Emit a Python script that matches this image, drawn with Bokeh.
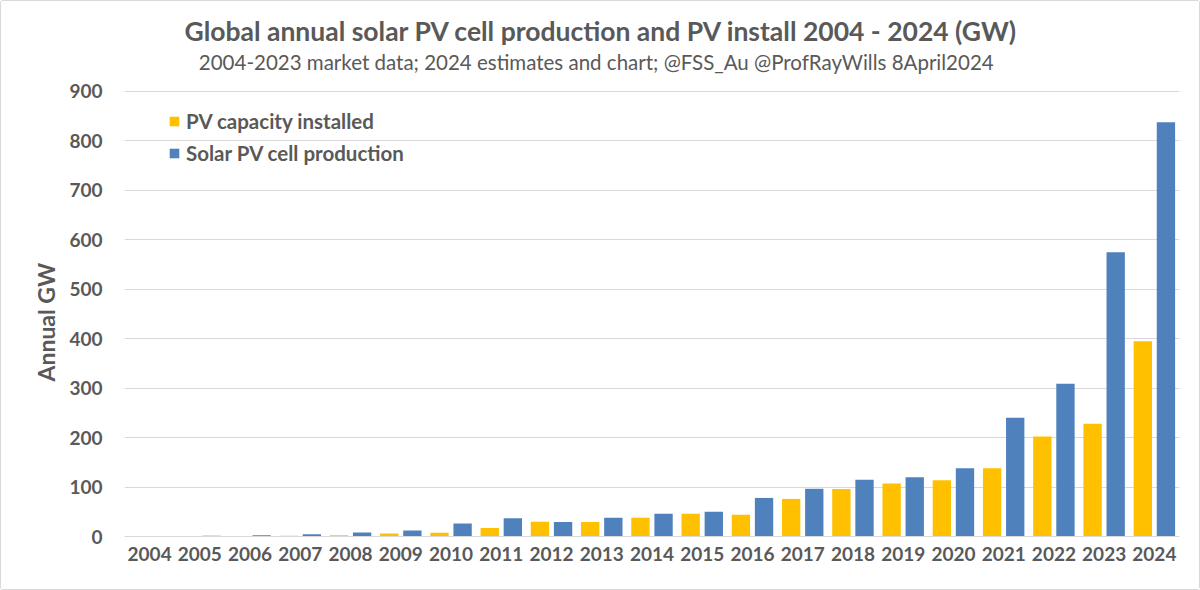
from bokeh.plotting import figure
from bokeh.models import ColumnDataSource, Range1d, FixedTicker, Label, Legend, LegendItem, Title
from bokeh.transform import dodge
from bokeh.embed import file_html
from bokeh.resources import INLINE

years = [str(y) for y in range(2004, 2025)]
installed = [0.3, 0.5, 0.8, 1.5, 2.7, 6, 7.4, 17, 30, 29.5, 38, 46, 44, 76, 96, 107, 114, 138, 202, 228, 395]
production = [0.4, 1.5, 2.5, 4.5, 8, 12, 26.5, 37, 29.5, 38, 46, 50, 78, 96.5, 115, 120, 138, 240, 309, 575, 838]
y_ticks = [0, 100, 200, 300, 400, 500, 600, 700, 800, 900]

title_text = "Global annual solar PV cell production and PV install 2004 - 2024 (GW)"
subtitle_text = "2004-2023 market data;  2024 estimates and chart; @FSS_Au @ProfRayWills  8April2024"
y_label_text = "Annual GW"
series_names = ["PV capacity installed", "Solar PV cell production"]

YELLOW = "#FFC000"
BLUE = "#4F81BD"
GREY = "#595959"
FONT = "Lato"

src = ColumnDataSource(dict(year=years, installed=installed, production=production))

# frame spans whole height so that the titles can live inside it; grid only at the ticks 0..900
p = figure(x_range=years, y_range=Range1d(0, 1082), width=1200, height=590,
           output_backend="svg", toolbar_location=None,
           min_border_left=123, min_border_right=22, min_border_top=0, min_border_bottom=55)
p.title = None
p.outline_line_color = None
p.background_fill_color = "white"
p.border_fill_color = "white"
p.styles = {"border": "1px solid #d9d9d9", "box-sizing": "border-box", "border-radius": "3px"}

r1 = p.vbar(x=dodge("year", -0.23, range=p.x_range), top="installed", width=0.365,
            source=src, fill_color=YELLOW, line_color=None)
r2 = p.vbar(x=dodge("year", 0.23, range=p.x_range), top="production", width=0.365,
            source=src, fill_color=BLUE, line_color=None)

# axes
p.yaxis.ticker = FixedTicker(ticks=y_ticks)
p.yaxis.axis_line_color = None
p.yaxis.major_tick_line_color = None
p.yaxis.minor_tick_line_color = None
p.yaxis.major_label_text_font = FONT
p.yaxis.major_label_text_font_style = "bold"
p.yaxis.major_label_text_font_size = "19px"
p.yaxis.major_label_text_color = GREY
p.yaxis.major_label_standoff = 16

p.xaxis.axis_line_color = "#D9D9D9"
p.xaxis.major_tick_line_color = None
p.xaxis.minor_tick_line_color = None
p.xaxis.major_label_text_font = FONT
p.xaxis.major_label_text_font_style = "bold"
p.xaxis.major_label_text_font_size = "19px"
p.xaxis.major_label_text_color = GREY
p.xaxis.major_label_standoff = 4

p.xgrid.grid_line_color = None
p.ygrid.grid_line_color = "#D9D9D9"
p.ygrid.grid_line_width = 1

# y axis title as a side-panel Title so it can sit lower than the frame centre
p.add_layout(Title(text=y_label_text, align="left", offset=155, standoff=11,
                   vertical_align="middle", text_font=FONT, text_font_style="bold",
                   text_font_size="23px", text_color=GREY), "left")

# legend
legend = Legend(items=[LegendItem(label=series_names[0], renderers=[r1]),
                       LegendItem(label=series_names[1], renderers=[r2])],
                location=(44, 371), orientation="vertical")
legend.background_fill_alpha = 0
legend.border_line_color = None
legend.margin = 0
legend.padding = 5
legend.glyph_width = 12
legend.glyph_height = 12
legend.label_height = 22
legend.spacing = 8
legend.label_standoff = 6
legend.label_text_font = FONT
legend.label_text_font_style = "bold"
legend.label_text_font_size = "20.5px"
legend.label_text_color = GREY
p.add_layout(legend, "center")

# titles (screen units relative to the frame: x from frame left, y from frame bottom)
p.add_layout(Label(x=477, y=506, x_units="screen", y_units="screen", text=title_text,
                   text_font=FONT, text_font_style="bold", text_font_size="26.5px",
                   text_color=GREY, text_align="center", text_baseline="middle"))
p.add_layout(Label(x=477, y=475, x_units="screen", y_units="screen", text=subtitle_text,
                   text_font=FONT, text_font_size="20.5px",
                   text_color=GREY, text_align="center", text_baseline="middle"))

open("out.html", "w").write(file_html(p, INLINE))
